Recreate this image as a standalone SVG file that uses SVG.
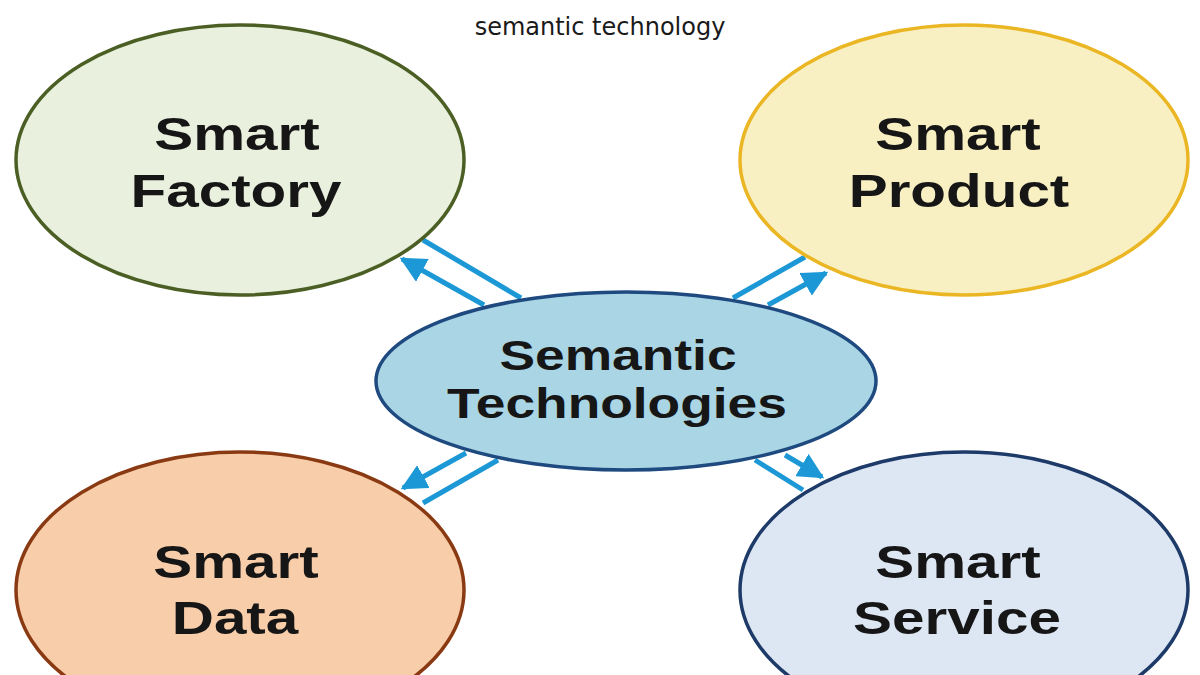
<svg xmlns="http://www.w3.org/2000/svg" width="1200" height="675" viewBox="0 0 1200 675">
<defs>
<style>
.lbl{font-family:"Liberation Sans","Arial",sans-serif;font-weight:bold;fill:#161616;text-anchor:middle}
.big{font-size:46px}
.mid{font-size:42px}
.title{font-family:"DejaVu Sans",sans-serif;font-size:24px;fill:#1a1a1a;text-anchor:middle}
.conn{stroke:#1b98d5;stroke-width:5;fill:none;stroke-linecap:butt}
</style>
<marker id="ah" viewBox="0 0 10 10" refX="9" refY="5" markerWidth="5.2" markerHeight="5.2" orient="auto" markerUnits="strokeWidth">
<path d="M0,0 L10,5 L0,10 Z" fill="#1b98d5"/>
</marker>
</defs>
<rect width="1200" height="675" fill="#ffffff"/>
<text class="title" x="600" y="35">semantic technology</text>
<g id="connectors">
<line class="conn" x1="423" y1="240" x2="521" y2="298"/>
<line class="conn" x1="484" y1="305" x2="402" y2="259" marker-end="url(#ah)"/>
<line class="conn" x1="733" y1="298" x2="805" y2="257"/>
<line class="conn" x1="768" y1="305" x2="826" y2="273" marker-end="url(#ah)"/>
<line class="conn" x1="466" y1="453" x2="403" y2="488" marker-end="url(#ah)"/>
<line class="conn" x1="498" y1="460" x2="423" y2="503"/>
<line class="conn" x1="755" y1="460" x2="803" y2="490"/>
<line class="conn" x1="785" y1="455" x2="822" y2="477" marker-end="url(#ah)"/>
</g>
<g id="smart-factory">
<ellipse cx="240" cy="160" rx="224" ry="135" fill="#e9f0dd" stroke="#4b5e23" stroke-width="3.5"/>
<text class="lbl big" transform="translate(237,150) scale(1.27,1)">Smart</text>
<text class="lbl big" transform="translate(236,207) scale(1.27,1)">Factory</text>
</g>
<g id="smart-product">
<ellipse cx="964" cy="160" rx="224" ry="135" fill="#f8f0c2" stroke="#ebb623" stroke-width="3.5"/>
<text class="lbl big" transform="translate(958,150) scale(1.27,1)">Smart</text>
<text class="lbl big" transform="translate(959,207) scale(1.27,1)">Product</text>
</g>
<g id="semantic-technologies">
<ellipse cx="626" cy="381" rx="250" ry="89" fill="#a9d5e5" stroke="#1e4a80" stroke-width="3.5"/>
<text class="lbl mid" transform="translate(618,370) scale(1.27,1)">Semantic</text>
<text class="lbl mid" transform="translate(617,418) scale(1.27,1)">Technologies</text>
</g>
<g id="smart-data">
<ellipse cx="240" cy="590" rx="224" ry="138" fill="#f8cdaa" stroke="#8a3a12" stroke-width="3.5"/>
<text class="lbl big" transform="translate(236,578) scale(1.27,1)">Smart</text>
<text class="lbl big" transform="translate(235,634) scale(1.27,1)">Data</text>
</g>
<g id="smart-service">
<ellipse cx="964" cy="590" rx="224" ry="138" fill="#dde7f4" stroke="#1d3a68" stroke-width="3.5"/>
<text class="lbl big" transform="translate(958,578) scale(1.27,1)">Smart</text>
<text class="lbl big" transform="translate(957,634) scale(1.27,1)">Service</text>
</g>
</svg>
